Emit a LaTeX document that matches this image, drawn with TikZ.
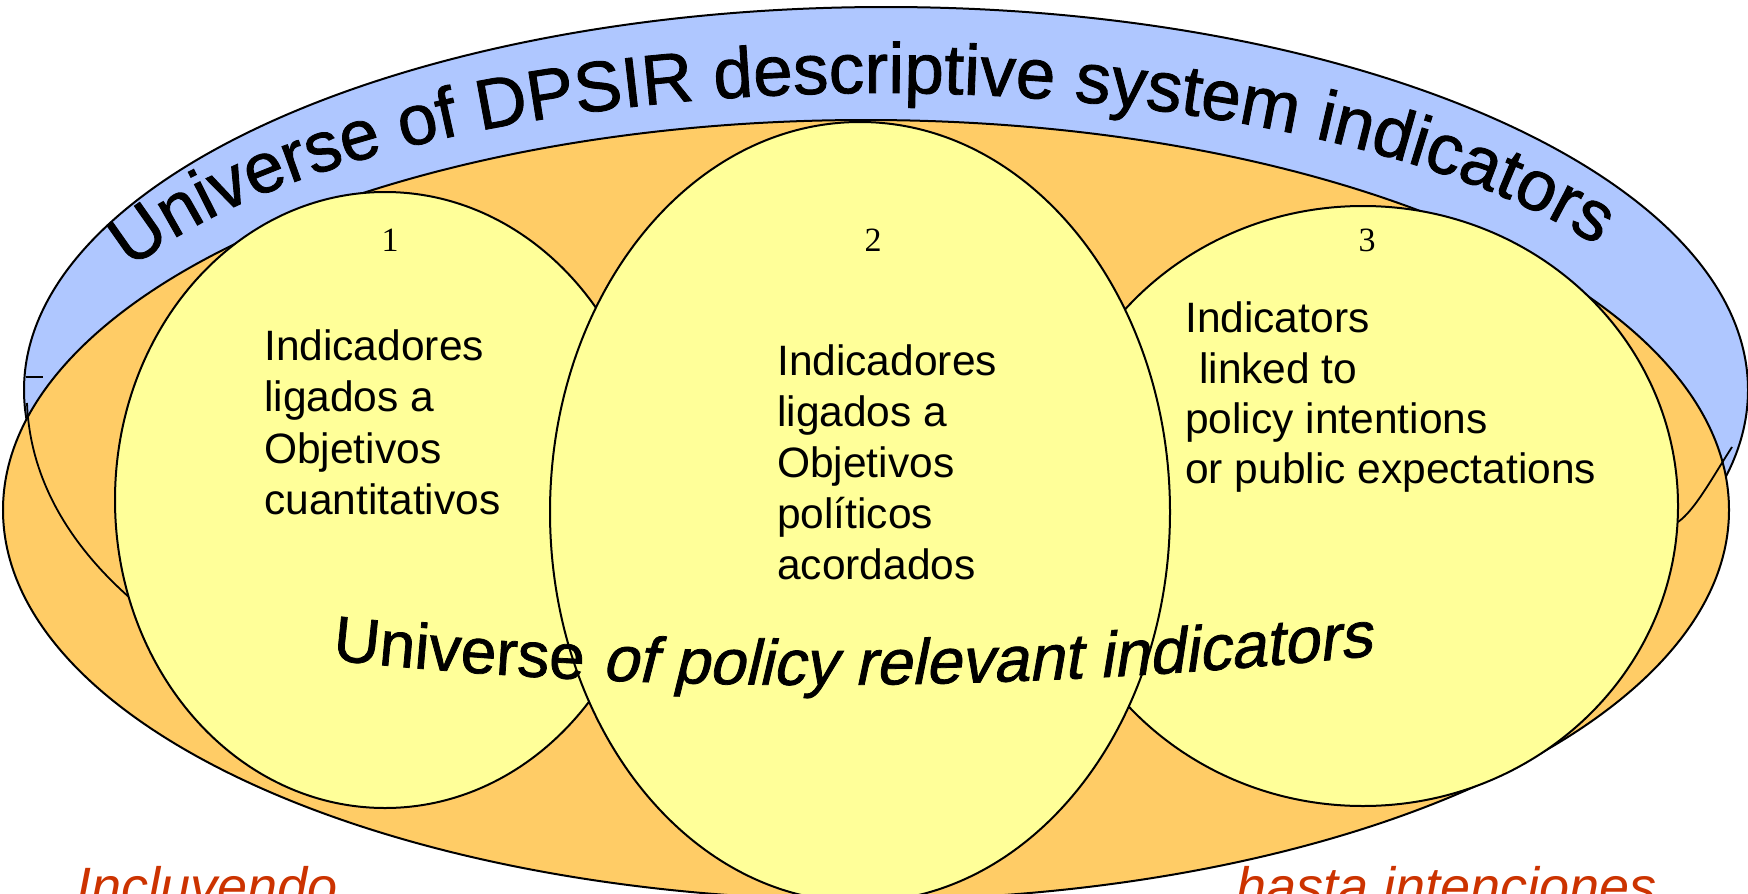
\documentclass[tikz,border=0pt]{standalone}
\usepackage{fontspec}
\setmainfont{Liberation Sans}
\newfontfamily\numfont{Liberation Serif}
\newfontfamily\wordart[FakeBold=1.2]{Liberation Sans}
\newfontfamily\wordslant[FakeBold=1.2,FakeSlant=0.22]{Liberation Sans}
\usetikzlibrary{decorations.text}
\definecolor{bandblue}{RGB}{175,199,255}
\definecolor{outerorange}{RGB}{255,204,102}
\definecolor{innerylw}{RGB}{255,255,153}
\definecolor{notered}{RGB}{204,51,0}
\begin{document}
\begin{tikzpicture}[x=1pt,y=1pt,
  outl/.style={draw=black,line width=2pt},
  thinl/.style={draw=black,line width=1.8pt},
  body/.style={anchor=base west,inner sep=0pt,font=\fontsize{42.5}{50}\selectfont},
  numlbl/.style={inner sep=0pt,font=\numfont\fontsize{34}{34}\selectfont},
  note/.style={anchor=base west,inner sep=0pt,text=notered,font=\itshape\fontsize{54}{54}\selectfont}]
\useasboundingbox (0,0) rectangle (1748,-894);
\fill[white] (0,0) rectangle (1748,-894);
% blue band ellipse
\path[outl,fill=bandblue] (886,-390) ellipse [x radius=862,y radius=383];
\draw[thinl] (26,-377) -- (43,-377);
% orange ellipse
\path[outl,fill=outerorange] (866,-510) ellipse [x radius=863,y radius=390];
% artifact curves
\draw[thinl] (27,-403) .. controls (30,-480) and (70,-545) .. (130,-598);
\draw[thinl] (1732,-447) .. controls (1712,-478) and (1695,-510) .. (1678,-522);
% yellow ellipses
\path[outl,fill=innerylw] (385,-500) ellipse [x radius=270,y radius=308];
\path[outl,fill=innerylw] (1363,-506) ellipse [x radius=315,y radius=300];
\path[outl,fill=innerylw] (860,-512) ellipse [x radius=310,y radius=390];
% curved title
\path[decorate,decoration={text along path,text align=left,
  text={|\wordart\fontsize{71}{71}\selectfont|Universe of DPSIR descriptive system indicators}}]
  (880,-390) ++(156:820 and 297) arc[start angle=156,end angle=0,x radius=820,y radius=297];
% second curved text
\path[decorate,decoration={text along path,text align=left,
  text={|\wordart\fontsize{64}{64}\selectfont|Universe |\wordslant\fontsize{64}{64}\selectfont|of policy relevant indicators}}]
  (332,-660) .. controls (650,-695) and (1050,-695) .. (1440,-648);
% numbers
\node[numlbl] (n1) at (390,-240) {1};
\node[numlbl] (n2) at (873,-240) {2};
\node[numlbl] (n3) at (1367,-240) {3};
% text 1
\node[body] (a1) at (264,-360) {Indicadores};
\node[body] (a2) at (264,-411.5) {ligados a};
\node[body] (a3) at (264,-463) {Objetivos};
\node[body] (a4) at (264,-514.5) {cuantitativos};
% text 2
\node[body] (b1) at (777,-375) {Indicadores};
\node[body] (b2) at (777,-426) {ligados a};
\node[body] (b3) at (777,-477) {Objetivos};
\node[body] (b4) at (777,-528) {políticos};
\node[body] (b5) at (777,-579) {acordados};
% text 3
\node[body] (c1) at (1185,-332) {Indicators};
\node[body] (c2) at (1199,-383) {linked to};
\node[body] (c3) at (1185,-433) {policy intentions};
\node[body] (c4) at (1185,-483) {or public expectations};
% bottom notes
\node[note] (m1) at (76,-905) {Incluyendo};
\node[note] (m2) at (1236,-905) {hasta intenciones};
\end{tikzpicture}
\end{document}
